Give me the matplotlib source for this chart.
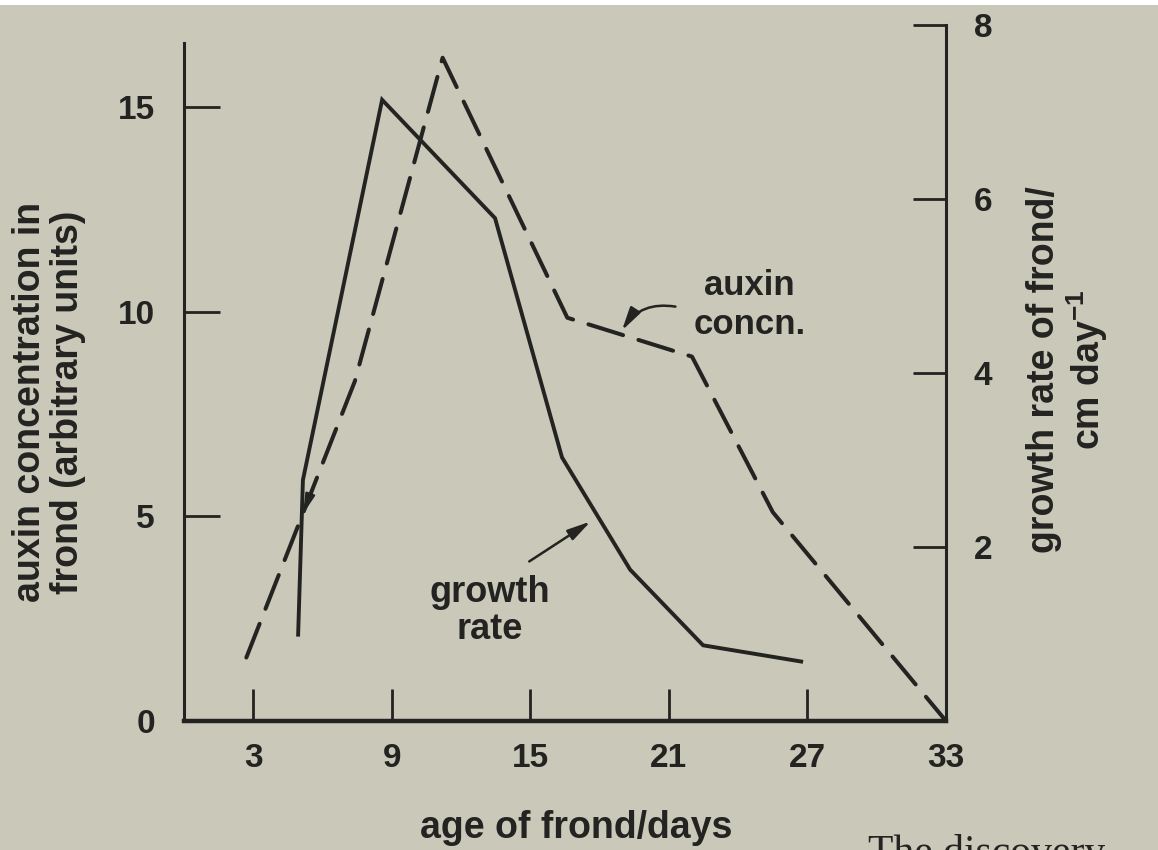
import matplotlib
matplotlib.use('Agg')
import matplotlib.pyplot as plt
from matplotlib.patches import Rectangle

plt.rcParams['font.family'] = ['Liberation Sans', 'DejaVu Sans']
plt.rcParams['font.weight'] = 'bold'
plt.rcParams['mathtext.fontset'] = 'custom'
plt.rcParams['mathtext.rm'] = 'Liberation Sans:bold'
plt.rcParams['mathtext.it'] = 'Liberation Sans:bold'

# Data
auxin_days = [2.7, 7.4, 11.2, 16.6, 22.0, 25.5, 33.0]
auxin_conc = [1.55, 8.3, 16.2, 9.85, 8.9, 5.1, 0.0]

growth_days = [4.94, 5.15, 8.58, 13.47, 16.37, 19.32, 22.48, 26.81]
growth_rate = [0.97, 2.77, 7.14, 5.78, 3.03, 1.74, 0.87, 0.68]

x_ticks = [3, 9, 15, 21, 27, 33]
auxin_ticks = [0, 5, 10, 15]
growth_ticks = [2, 4, 6, 8]

bg = '#c9c8b9'
ink = '#232321'

fig = plt.figure(figsize=(11.58, 8.5), dpi=100)
fig.patch.set_facecolor(bg)

ax = fig.add_axes([184 / 1158, 1 - 721 / 850, 762 / 1158, 696 / 850])
ax.set_facecolor('none')
ax.plot(auxin_days, auxin_conc, color=ink, lw=2.9, ls=(0, (9, 4)),
        dash_capstyle='round', solid_joinstyle='miter')
ax.set_xlim(0, 33)
ax.set_ylim(0, 17.0)
ax.set_xticks(x_ticks)
ax.set_yticks(auxin_ticks)

for s in ['top', 'right']:
    ax.spines[s].set_visible(False)
ax.spines['left'].set_linewidth(2.2)
ax.spines['left'].set_bounds(0, 16.55)
ax.spines['bottom'].set_linewidth(3.2)
for s in ['left', 'bottom']:
    ax.spines[s].set_color(ink)

ax.tick_params(axis='y', direction='in', length=26, width=2, color=ink,
               pad=21, labelsize=24, labelcolor=ink)
ax.tick_params(axis='x', direction='in', length=23, width=2, color=ink,
               pad=16, labelsize=24, labelcolor=ink)

ax2 = ax.twinx()
ax2.set_facecolor('none')
ax2.plot(growth_days, growth_rate, color=ink, lw=2.8, solid_joinstyle='miter',
         solid_capstyle='butt')
ax2.set_ylim(0, 8)
ax2.set_yticks(growth_ticks)
for s in ['top', 'left', 'bottom']:
    ax2.spines[s].set_visible(False)
ax2.spines['right'].set_linewidth(2.2)
ax2.spines['right'].set_color(ink)
ax2.tick_params(axis='y', direction='in', length=24, width=2, color=ink,
                pad=20, labelsize=24, labelcolor=ink)

# Annotations
head = '-|>,head_length=1.4,head_width=0.35'
ax.text(24.5, 10.16, 'auxin\nconcn.', ha='center', va='center', fontsize=25,
        color=ink, linespacing=1.2)
ax.annotate('', xy=(18.9, 9.48), xytext=(21.4, 10.11),
            arrowprops=dict(arrowstyle=head, connectionstyle='arc3,rad=0.35',
                            color=ink, lw=1.8))
ax.text(13.25, 2.69, 'growth\nrate', ha='center', va='center', fontsize=26,
        color=ink, linespacing=1.1)
ax.annotate('', xy=(17.71, 4.91), xytext=(14.85, 3.86),
            arrowprops=dict(arrowstyle=head, color=ink, lw=1.8))
ax.annotate('', xy=(5.12, 5.0), xytext=(5.6, 5.75),
            arrowprops=dict(arrowstyle='-|>,head_length=1.2,head_width=0.3',
                            color=ink, lw=1.5))

# Axis labels
fig.text(49 / 1158, 1 - 402 / 850, 'auxin concentration in\nfrond (arbitrary units)',
         rotation=90, ha='center', va='center', fontsize=27, color=ink,
         linespacing=1.05, multialignment='center')
fig.text(1068 / 1158, 1 - 370 / 850, 'growth rate of frond/\ncm day$^{-1}$',
         rotation=90, ha='center', va='center', fontsize=27, color=ink,
         linespacing=1.05, multialignment='center')
fig.text(576 / 1158, 1 - 828 / 850, 'age of frond/days', ha='center', va='center',
         fontsize=27, color=ink)

# page remnants
fig.text(868 / 1158, 1 - 834 / 850, 'The discovery', ha='left', va='top',
         fontsize=30, family='Liberation Serif', weight='normal', color=ink)
fig.add_artist(Rectangle((0, 1 - 5 / 850), 1, 5 / 850, transform=fig.transFigure,
                         facecolor='white', edgecolor='none'))

fig.savefig('out.png', dpi=100, facecolor=fig.get_facecolor())
